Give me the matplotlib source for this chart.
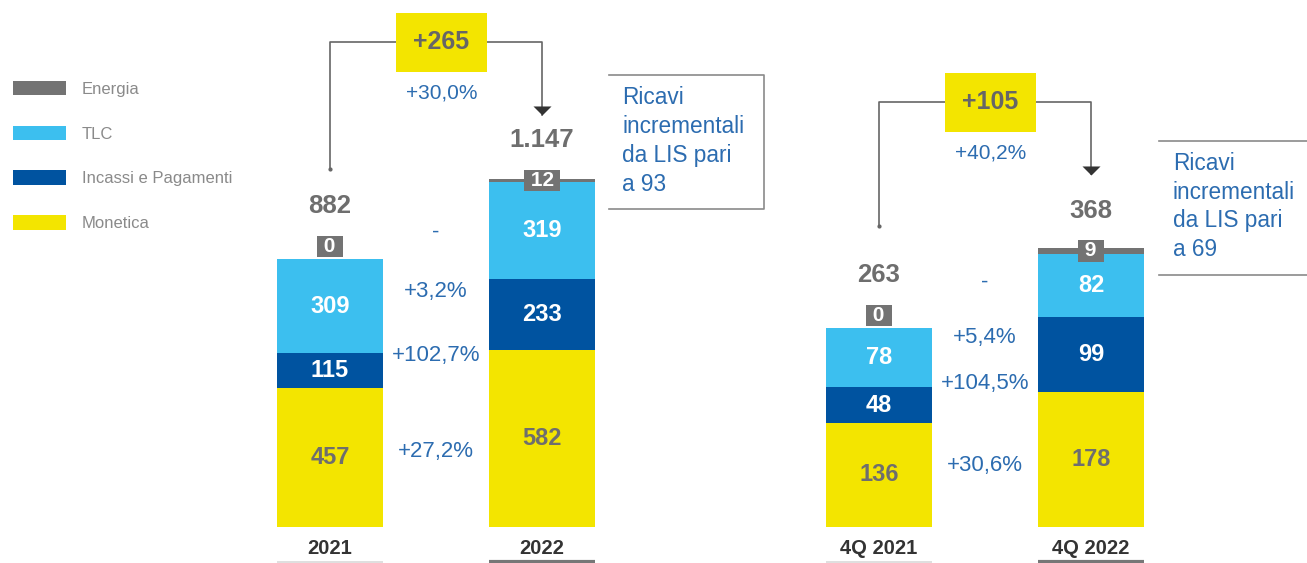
import matplotlib.pyplot as plt

plt.rcParams["font.family"] = ["Liberation Sans", "DejaVu Sans"]

# dati (milioni di euro)
segmenti = ["Monetica", "Incassi e Pagamenti", "TLC", "Energia"]

categorie_anno = ["2021", "2022"]
monetica_anno = [457, 582]
incassi_anno = [115, 233]
tlc_anno = [309, 319]
energia_anno = [0, 12]
totali_anno = ["882", "1.147"]
variazioni_anno = ["+27,2%", "+102,7%", "+3,2%", "-"]
delta_anno = "+265"
delta_pct_anno = "+30,0%"
nota_anno = "Ricavi\nincrementali\nda LIS pari\na 93"

categorie_q4 = ["4Q 2021", "4Q 2022"]
monetica_q4 = [136, 178]
incassi_q4 = [48, 99]
tlc_q4 = [78, 82]
energia_q4 = [0, 9]
totali_q4 = ["263", "368"]
variazioni_q4 = ["+30,6%", "+104,5%", "+5,4%", "-"]
delta_q4 = "+105"
delta_pct_q4 = "+40,2%"
nota_q4 = "Ricavi\nincrementali\nda LIS pari\na 69"

# colori
colori = ["#f3e500", "#0053a0", "#3cbfef", "#737373"]
col_etichette = ["#6e6e6e", "white", "white", "white"]
blu_testo = "#2c6cb0"
grigio_linee = "#666666"

W, H = 1307, 563
PASSO = 212  # pixel tra le due barre

fig = plt.figure(figsize=(W / 100, H / 100), dpi=100)


def pannello(ax, cats, serie, totali, variazioni, delta, delta_pct, nota, lay):
    scala = lay["scala"]
    X = lambda px: (px - lay["c0"]) / PASSO
    Y = lambda py: (lay["base"] - py) / scala

    ax.set_position([lay["sx"] / W, 0, (lay["dx"] - lay["sx"]) / W, 1])
    ax.set_xlim(X(lay["sx"]), X(lay["dx"]))
    ax.set_ylim(Y(H), Y(0))
    ax.axis("off")

    xs = list(range(len(cats)))
    basi = [0] * len(cats)
    for nome, valori, col, col_t in zip(segmenti, serie, colori, col_etichette):
        ax.bar(xs, valori, width=0.5, bottom=basi, color=col, label=nome, zorder=2)
        for x, v, b in zip(xs, valori, basi):
            if nome == "Energia":
                off = 9 if v == 0 else 0
                ax.annotate(f" {v} ", (x, b + v / 2), xytext=(0, off),
                            textcoords="offset points", ha="center", va="center",
                            fontsize=15, fontweight="bold", color="white", zorder=4,
                            bbox=dict(boxstyle="square,pad=0.05", fc="#737373", ec="none"))
            else:
                ax.text(x, b + v / 2, str(v), ha="center", va="center",
                        fontsize=17, fontweight="bold", color=col_t, zorder=3)
        basi = [b + v for b, v in zip(basi, valori)]

    # totali
    for x, t, e, b in zip(xs, totali, serie[-1], basi):
        off = 9 + 29 if e == 0 else 29
        ax.annotate(t, (x, b - e / 2), xytext=(0, off), textcoords="offset points",
                    ha="center", va="center", fontsize=18.5, fontweight="bold",
                    color="#6e6e6e")

    # variazioni percentuali
    for testo, py in zip(variazioni, lay["var_py"]):
        ax.text(0.5, Y(py), testo, ha="center", va="center", fontsize=16,
                color=blu_testo)

    # etichette categorie e linee sotto
    for x, c, stile in zip(xs, cats, [("#d9d9d9", 1.2), ("#777777", 3)]):
        ax.text(x, Y(lay["base"] + 22), c, ha="center", va="center",
                fontsize=14.5, fontweight="bold", color="#333333")
        ax.plot([x - 0.25, x + 0.25], [Y(lay["base"] + 35)] * 2,
                color=stile[0], lw=stile[1], solid_capstyle="butt", clip_on=False)

    # connettore con delta
    b = lay["bracket"]
    ax.plot([0, 0, 1, 1], [Y(b[0]), Y(b[1]), Y(b[1]), Y(b[2]) + 1],
            color=grigio_linee, lw=1.2, zorder=1)
    ax.plot([0], [Y(b[0])], marker="o", ms=2, color=grigio_linee)
    ax.plot([1], [Y(b[2])], marker=[(-1, 1), (1, 1), (0, 0)], ms=13,
            color="#333333", mew=0)
    ax.text(X(lay["box_x"]), Y(b[1]), delta, ha="center", va="center",
            fontsize=18, fontweight="bold", color="#666666", zorder=5,
            bbox=dict(boxstyle="square,pad=0.7", fc="#f3e500", ec="none"))
    ax.text(X(lay["box_x"]), Y(lay["pct_py"]), delta_pct, ha="center",
            va="center", fontsize=15, color=blu_testo)

    # nota
    n = lay["nota"]
    x0, x1, y0, y1 = X(n[0]), X(n[1]), Y(n[2]), Y(n[3])
    if lay["chiusa"]:
        ax.plot([x0, x1, x1, x0], [y0, y0, y1, y1], color="#8a8a8a", lw=1.2,
                clip_on=False)
    else:
        ax.plot([x0, x1], [y0, y0], color="#8a8a8a", lw=1.2, clip_on=False)
        ax.plot([x0, x1], [y1, y1], color="#8a8a8a", lw=1.2, clip_on=False)
    ax.text(X(lay["nota_x"]), Y(lay["nota_y"]), nota, ha="left", va="center",
            fontsize=16.3, color=blu_testo, linespacing=1.32)


ax1 = fig.add_axes([0, 0, 1, 1])
pannello(ax1, categorie_anno,
         [monetica_anno, incassi_anno, tlc_anno, energia_anno],
         totali_anno, variazioni_anno, delta_anno, delta_pct_anno, nota_anno,
         dict(sx=250, dx=780, c0=330, base=527, scala=0.304,
              var_py=[451, 355, 291, 232], bracket=(169, 42, 115), box_x=441.5,
              pct_py=93, nota=(609, 764, 75, 209), chiusa=True,
              nota_x=622, nota_y=141))

ax2 = fig.add_axes([0, 0, 1, 1])
pannello(ax2, categorie_q4,
         [monetica_q4, incassi_q4, tlc_q4, energia_q4],
         totali_q4, variazioni_q4, delta_q4, delta_pct_q4, nota_q4,
         dict(sx=800, dx=1307, c0=879, base=526.5, scala=0.758,
              var_py=[466, 383, 338, 282], bracket=(226, 102, 175), box_x=990.5,
              pct_py=153, nota=(1159, 1307, 141, 275), chiusa=False,
              nota_x=1173, nota_y=206.5))

# legenda
handles, labels = ax1.get_legend_handles_labels()
fig.legend(handles[::-1], labels[::-1], loc="upper left",
           bbox_to_anchor=(13 / W, 1 - 81 / H), frameon=False, fontsize=12,
           labelcolor="#8a8a8a", handlelength=3.18, handleheight=0.95,
           handletextpad=0.96, labelspacing=1.73, borderpad=0, borderaxespad=0)

fig.savefig("out.png", dpi=100)
